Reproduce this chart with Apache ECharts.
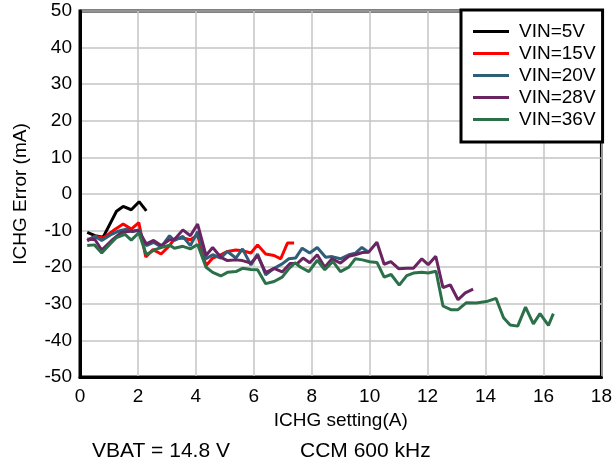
<!DOCTYPE html>
<html>
<head>
<meta charset="utf-8">
<script src="https://cdn.jsdelivr.net/npm/echarts@6/dist/echarts.min.js"></script>
<style>
html,body{margin:0;padding:0;background:#fff;}
#chart{width:615px;height:470px;}
</style>
</head>
<body>
<div id="chart"></div>
<script>
// ICHG setting (A) vs ICHG error (mA)
var seriesNames = ['VIN=5V', 'VIN=15V', 'VIN=20V', 'VIN=28V', 'VIN=36V'];
var xTicks = [0, 2, 4, 6, 8, 10, 12, 14, 16, 18];
var yTicks = [-50, -40, -30, -20, -10, 0, 10, 20, 30, 40, 50];

var vin5 = [[0.25,-10.5],[0.52,-11.4],[0.8,-11.8],[1.26,-4.7],[1.49,-3.4],[1.77,-4.3],[2.04,-2.1],[2.29,-4.6]];

var vin15 = [[0.25,-12.8],[0.52,-11.5],[0.8,-12],[1.15,-10],[1.49,-8.2],[1.77,-9.6],[2.03,-7.8],[2.27,-17.2],[2.52,-15.2],[2.8,-16.4],[3.09,-14.1],[3.26,-12.3],[3.55,-12],[3.81,-12.5],[4.06,-11.2],[4.35,-19.6],[4.58,-17.5],[4.86,-16.6],[5.09,-15.7],[5.38,-15.3],[5.61,-15.5],[5.9,-16.1],[6.13,-13.9],[6.41,-16.4],[6.7,-16.8],[6.93,-17.7],[7.16,-13.4],[7.39,-13.4]];

var vin20 = [[0.25,-12.7],[0.52,-11.6],[0.75,-12.7],[1.09,-11],[1.37,-10],[1.6,-9.6],[1.8,-10.3],[2.04,-9.8],[2.29,-14.1],[2.54,-13.2],[2.8,-14.5],[3.09,-11.4],[3.26,-12.7],[3.55,-11.6],[3.81,-14.1],[4.06,-10.3],[4.35,-17.7],[4.58,-16.6],[4.86,-17.5],[5.09,-15.7],[5.38,-17.5],[5.61,-15],[5.9,-19.4],[6.13,-16.4],[6.41,-22.1],[6.7,-20.3],[6.98,-19.1],[7.21,-17.7],[7.44,-17.5],[7.67,-14.8],[7.93,-16.1],[8.19,-14.6],[8.48,-17.3],[8.7,-17.1],[8.99,-17.7],[9.28,-16.6],[9.5,-16.2],[9.73,-14.6],[9.96,-15.9]];

var vin28 = [[0.25,-12.3],[0.52,-12.5],[0.75,-15.3],[1.09,-12.7],[1.43,-10.5],[1.72,-10.2],[2.0,-10],[2.29,-13.6],[2.54,-12.7],[2.8,-14.1],[3.09,-12.5],[3.26,-12.4],[3.55,-9.8],[3.81,-11.4],[4.06,-8.2],[4.35,-16.8],[4.58,-14.6],[4.86,-17.3],[5.09,-18.2],[5.38,-18],[5.61,-18.2],[5.9,-18.9],[6.13,-16.8],[6.41,-21.5],[6.7,-20.3],[6.98,-21.3],[7.25,-19],[7.5,-19],[7.7,-17.5],[7.93,-18.8],[8.19,-16.6],[8.45,-20],[8.7,-17.7],[8.99,-18.9],[9.28,-17],[9.5,-16.6],[9.75,-16],[9.96,-15.9],[10.25,-13.2],[10.5,-19.2],[10.73,-18.5],[11.0,-20.4],[11.28,-20.3],[11.51,-20.3],[11.8,-17.7],[12.02,-19.3],[12.28,-17],[12.53,-25.6],[12.78,-24.8],[13.05,-28.9],[13.3,-27],[13.57,-26]];

var vin36 = [[0.25,-14.1],[0.5,-13.9],[0.75,-16.1],[1.0,-14],[1.26,-11.9],[1.55,-11],[1.77,-12.6],[2.03,-10.6],[2.29,-16.6],[2.58,-15.2],[2.86,-14.5],[3.1,-14],[3.26,-14.8],[3.55,-14.3],[3.81,-15],[4.06,-13.8],[4.35,-20],[4.58,-21.4],[4.86,-22.4],[5.09,-21.4],[5.38,-21.2],[5.61,-20.3],[5.9,-20.6],[6.13,-20.7],[6.41,-24.5],[6.7,-23.9],[6.98,-22.7],[7.2,-20.5],[7.42,-18.8],[7.62,-20],[7.9,-21.2],[8.19,-18.1],[8.45,-20.7],[8.73,-18.4],[8.99,-21.2],[9.28,-20],[9.5,-17.7],[9.75,-18],[10.0,-18.5],[10.25,-18.7],[10.5,-22.7],[10.74,-22],[11.02,-24.9],[11.28,-22.3],[11.51,-21.6],[11.8,-21.4],[12.02,-21.6],[12.29,-21.1],[12.53,-30.6],[12.8,-31.6],[13.05,-31.6],[13.34,-29.7],[13.68,-29.8],[14.03,-29.4],[14.36,-28.5],[14.62,-33.8],[14.85,-35.8],[15.11,-36.1],[15.38,-30.9],[15.65,-35.5],[15.88,-32.7],[16.17,-35.9],[16.34,-32.7]];

var seriesData = [vin5, vin15, vin20, vin28, vin36];
var seriesColors = ['#000000', '#ff0000', '#2d5f78', '#6a2462', '#2b7048'];

var FONT = 'Liberation Sans, Arial, sans-serif';
var chart = echarts.init(document.getElementById('chart'), null, {renderer: 'canvas'});

var series = seriesNames.map(function (n, i) {
  return {
    name: n,
    type: 'line',
    data: seriesData[i],
    symbol: 'none',
    showSymbol: false,
    lineStyle: {color: seriesColors[i], width: 3},
    itemStyle: {color: seriesColors[i]},
    z: 3 + i
  };
});

chart.setOption({
  animation: false,
  backgroundColor: '#ffffff',
  grid: {left: 80, top: 11, right: 10, bottom: 93, show: true, borderColor: '#000', borderWidth: 3, backgroundColor: 'transparent', containLabel: false},
  legend: {
    data: seriesNames,
    orient: 'vertical',
    left: 461, top: 10,
    icon: 'rect',
    itemWidth: 36, itemHeight: 3, itemGap: 3,
    padding: [12, 7, 13, 12],
    backgroundColor: '#ffffff',
    borderColor: '#000', borderWidth: 3, borderRadius: 0,
    textStyle: {fontFamily: FONT, fontSize: 19, color: '#000', padding: [0, 0, 0, 5]},
    z: 20
  },
  xAxis: {
    type: 'value', min: 0, max: 18, interval: 2,
    name: 'ICHG setting(A)', nameLocation: 'middle', nameGap: 34,
    nameTextStyle: {fontFamily: FONT, fontSize: 19, color: '#000'},
    axisLine: {show: true, onZero: false, lineStyle: {color: '#000', width: 3}},
    axisTick: {show: false},
    axisLabel: {fontFamily: FONT, fontSize: 19, color: '#000', margin: 10,
      formatter: function (v) { return xTicks.indexOf(v) >= 0 ? String(v) : ''; }},
    splitLine: {show: true, lineStyle: {color: '#c4c4c4', width: 1.5}}
  },
  yAxis: {
    type: 'value', min: -50, max: 50, interval: 10,
    name: 'ICHG Error (mA)', nameLocation: 'middle', nameGap: 50, nameRotate: 90,
    nameTextStyle: {fontFamily: FONT, fontSize: 19, color: '#000'},
    axisLine: {show: true, onZero: false, lineStyle: {color: '#000', width: 3}},
    axisTick: {show: false},
    axisLabel: {fontFamily: FONT, fontSize: 19, color: '#000', margin: 8,
      formatter: function (v) { return yTicks.indexOf(v) >= 0 ? String(v) : ''; }},
    splitLine: {show: true, lineStyle: {color: '#c4c4c4', width: 1.5}}
  },
  graphic: [
    {type: 'text', left: 92, top: 441, style: {text: 'VBAT = 14.8 V', font: '21px ' + FONT, fill: '#000'}},
    {type: 'text', left: 300, top: 441, style: {text: 'CCM 600 kHz', font: '21px ' + FONT, fill: '#000'}}
  ],
  series: series
});
</script>
</body>
</html>
